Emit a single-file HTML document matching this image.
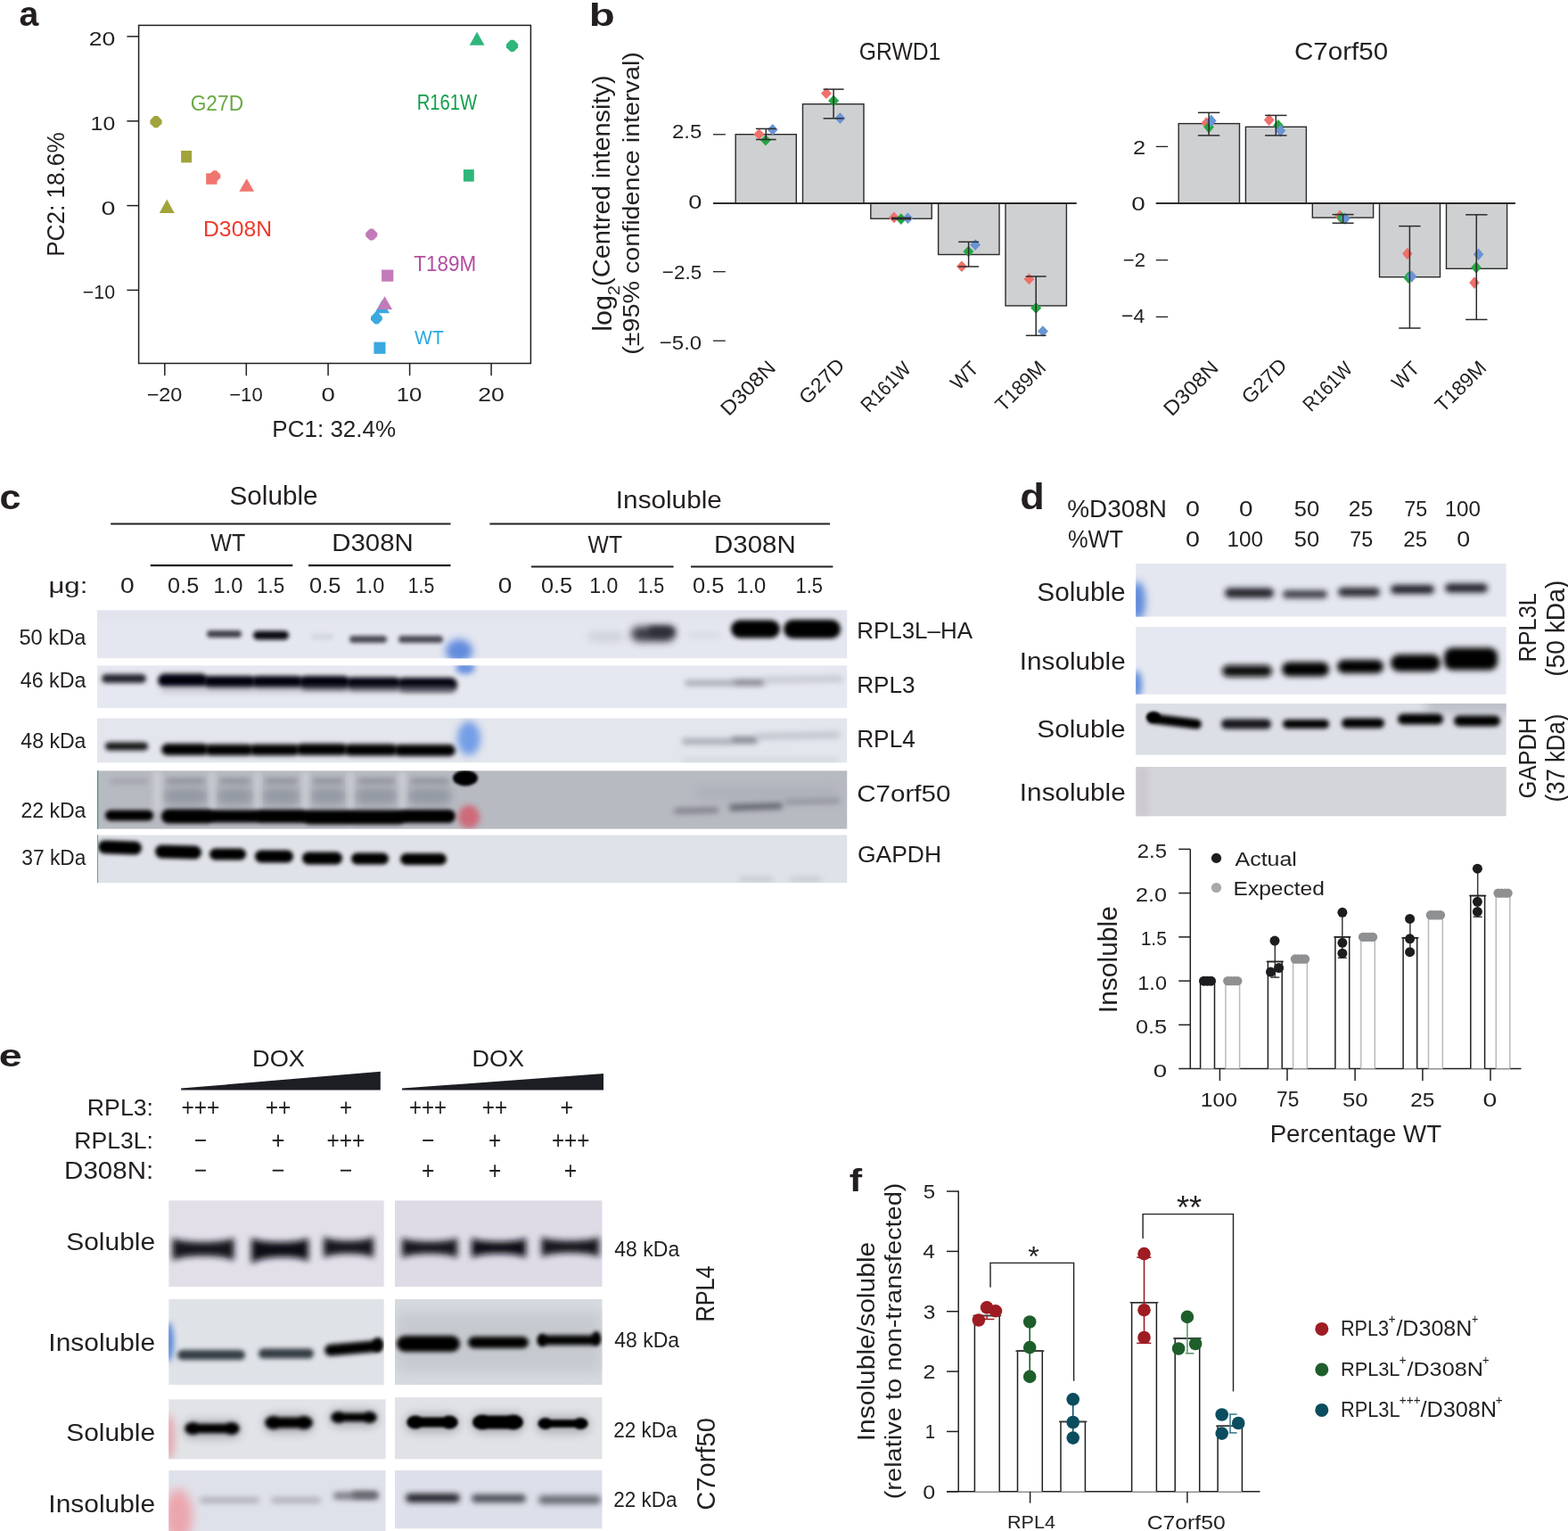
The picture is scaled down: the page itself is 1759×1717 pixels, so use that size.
<!DOCTYPE html><html><head><meta charset="utf-8"><title>Figure</title><style>html,body{margin:0;padding:0;background:#ffffff;width:1759px;height:1717px;overflow:hidden}</style></head><body><svg width="1759" height="1717" viewBox="0 0 1759 1717" style="display:block;font-family:'Liberation Sans',Arial,sans-serif"><defs><filter id="f80" x="-50%" y="-300%" width="200%" height="700%"><feGaussianBlur stdDeviation="0.8"/></filter><filter id="f100" x="-50%" y="-300%" width="200%" height="700%"><feGaussianBlur stdDeviation="1.0"/></filter><filter id="f150" x="-50%" y="-300%" width="200%" height="700%"><feGaussianBlur stdDeviation="1.5"/></filter><filter id="f180" x="-50%" y="-300%" width="200%" height="700%"><feGaussianBlur stdDeviation="1.8"/></filter><filter id="f200" x="-50%" y="-300%" width="200%" height="700%"><feGaussianBlur stdDeviation="2.0"/></filter><filter id="f220" x="-50%" y="-300%" width="200%" height="700%"><feGaussianBlur stdDeviation="2.2"/></filter><filter id="f240" x="-50%" y="-300%" width="200%" height="700%"><feGaussianBlur stdDeviation="2.4"/></filter><filter id="f250" x="-50%" y="-300%" width="200%" height="700%"><feGaussianBlur stdDeviation="2.5"/></filter><filter id="f260" x="-50%" y="-300%" width="200%" height="700%"><feGaussianBlur stdDeviation="2.6"/></filter><filter id="f280" x="-50%" y="-300%" width="200%" height="700%"><feGaussianBlur stdDeviation="2.8"/></filter><filter id="f300" x="-50%" y="-300%" width="200%" height="700%"><feGaussianBlur stdDeviation="3.0"/></filter><filter id="f320" x="-50%" y="-300%" width="200%" height="700%"><feGaussianBlur stdDeviation="3.2"/></filter><filter id="f350" x="-50%" y="-300%" width="200%" height="700%"><feGaussianBlur stdDeviation="3.5"/></filter><filter id="f400" x="-50%" y="-300%" width="200%" height="700%"><feGaussianBlur stdDeviation="4.0"/></filter><filter id="f450" x="-50%" y="-300%" width="200%" height="700%"><feGaussianBlur stdDeviation="4.5"/></filter><filter id="f500" x="-50%" y="-300%" width="200%" height="700%"><feGaussianBlur stdDeviation="5.0"/></filter><filter id="f600" x="-50%" y="-300%" width="200%" height="700%"><feGaussianBlur stdDeviation="6.0"/></filter><filter id="f800" x="-50%" y="-300%" width="200%" height="700%"><feGaussianBlur stdDeviation="8.0"/></filter><clipPath id="c1"><rect x="109.0" y="684.2" width="841.5" height="54.2"/></clipPath><clipPath id="c2"><rect x="109.0" y="746.2" width="841.5" height="48.0"/></clipPath><clipPath id="c3"><rect x="109.0" y="805.3" width="841.5" height="50.3"/></clipPath><clipPath id="c4"><rect x="109.0" y="864.2" width="841.5" height="65.6"/></clipPath><clipPath id="c5"><rect x="109.0" y="936.3" width="841.5" height="54.0"/></clipPath><clipPath id="c6"><rect x="1274.1" y="632.0" width="415.7" height="59.7"/></clipPath><clipPath id="c7"><rect x="1274.1" y="703.1" width="415.7" height="75.7"/></clipPath><clipPath id="c8"><rect x="1274.1" y="789.0" width="415.7" height="57.8"/></clipPath><clipPath id="c9"><rect x="1274.1" y="860.0" width="415.7" height="55.6"/></clipPath><clipPath id="c10"><rect x="189.2" y="1346.2" width="241.6" height="96.8"/></clipPath><clipPath id="c11"><rect x="443.0" y="1346.2" width="232.7" height="96.8"/></clipPath><clipPath id="c12"><rect x="189.2" y="1457.1" width="241.6" height="96.1"/></clipPath><clipPath id="c13"><rect x="443.0" y="1457.1" width="232.7" height="96.1"/></clipPath><clipPath id="c14"><rect x="189.2" y="1569.2" width="243.6" height="67.4"/></clipPath><clipPath id="c15"><rect x="443.0" y="1567.1" width="232.7" height="69.5"/></clipPath><clipPath id="c16"><rect x="189.2" y="1649.1" width="243.6" height="67.9"/></clipPath><clipPath id="c17"><rect x="443.0" y="1649.1" width="232.7" height="65.4"/></clipPath></defs><rect width="1759" height="1717" fill="#ffffff"/><text transform="translate(21.56,29.00) scale(1.0321,1)" font-size="38.10" font-weight="bold" fill="#231f20" >a</text>
<rect x="155.60" y="28.40" width="439.80" height="379.10" fill="none" stroke="#231f20" stroke-width="1.5" />
<line x1="142.40" y1="40.90" x2="155.60" y2="40.90" stroke="#231f20" stroke-width="1.5" />
<line x1="142.40" y1="135.80" x2="155.60" y2="135.80" stroke="#231f20" stroke-width="1.5" />
<line x1="142.40" y1="230.60" x2="155.60" y2="230.60" stroke="#231f20" stroke-width="1.5" />
<line x1="142.40" y1="325.40" x2="155.60" y2="325.40" stroke="#231f20" stroke-width="1.5" />
<text transform="translate(99.67,51.00) scale(1.1821,1)" font-size="22.49" font-weight="normal" fill="#231f20" >20</text>
<text transform="translate(101.62,145.80) scale(1.1085,1)" font-size="22.35" font-weight="normal" fill="#231f20" >10</text>
<text transform="translate(113.38,240.50) scale(1.2824,1)" font-size="22.35" font-weight="normal" fill="#231f20" >0</text>
<text transform="translate(92.75,335.30) scale(0.9696,1)" font-size="22.06" font-weight="normal" fill="#231f20" >−10</text>
<line x1="184.80" y1="407.50" x2="184.80" y2="421.30" stroke="#231f20" stroke-width="1.5" />
<line x1="276.30" y1="407.50" x2="276.30" y2="421.30" stroke="#231f20" stroke-width="1.5" />
<line x1="368.10" y1="407.50" x2="368.10" y2="421.30" stroke="#231f20" stroke-width="1.5" />
<line x1="459.60" y1="407.50" x2="459.60" y2="421.30" stroke="#231f20" stroke-width="1.5" />
<line x1="551.10" y1="407.50" x2="551.10" y2="421.30" stroke="#231f20" stroke-width="1.5" />
<text transform="translate(164.65,450.10) scale(1.0490,1)" font-size="22.35" font-weight="normal" fill="#231f20" >−20</text>
<text transform="translate(257.22,450.10) scale(0.9878,1)" font-size="22.35" font-weight="normal" fill="#231f20" >−10</text>
<text transform="translate(360.52,450.10) scale(1.2356,1)" font-size="22.35" font-weight="normal" fill="#231f20" >0</text>
<text transform="translate(444.75,450.10) scale(1.1489,1)" font-size="22.35" font-weight="normal" fill="#231f20" >10</text>
<text transform="translate(536.27,450.10) scale(1.1897,1)" font-size="22.35" font-weight="normal" fill="#231f20" >20</text>
<text transform="translate(305.37,489.50) scale(0.9917,1)" font-size="26.22" font-weight="normal" fill="#231f20" >PC1: 32.4%</text>
<text transform="translate(72.40,287.84) rotate(-90) scale(0.9267,1)" font-size="28.22" font-weight="normal" fill="#231f20">PC2: 18.6%</text>
<polygon points="173.15,130.10 176.85,130.10 181.60,134.85 181.60,138.55 176.85,143.30 173.15,143.30 168.40,138.55 168.40,134.85" fill="#a1a43b" />
<rect x="203.10" y="169.00" width="12.00" height="13.40" fill="#a1a43b" stroke="none" stroke-width="0" />
<polygon points="187.25,223.60 195.70,238.90 178.80,238.90" fill="#a1a43b" />
<polygon points="239.24,191.30 242.76,191.30 247.30,195.84 247.30,199.36 242.76,203.90 239.24,203.90 234.70,199.36 234.70,195.84" fill="#f1756f" />
<rect x="231.20" y="194.30" width="12.30" height="12.50" fill="#f1756f" stroke="none" stroke-width="0" />
<polygon points="276.75,200.30 285.10,214.70 268.40,214.70" fill="#f1756f" />
<polygon points="535.10,35.70 543.50,50.80 526.70,50.80" fill="#2fb67b" />
<polygon points="572.75,44.80 576.45,44.80 581.20,49.55 581.20,53.25 576.45,58.00 572.75,58.00 568.00,53.25 568.00,49.55" fill="#2fb67b" />
<rect x="519.90" y="190.10" width="11.90" height="13.50" fill="#2fb67b" stroke="none" stroke-width="0" />
<polygon points="414.88,256.60 418.52,256.60 423.20,261.28 423.20,264.92 418.52,269.60 414.88,269.60 410.20,264.92 410.20,261.28" fill="#c27bb8" />
<rect x="428.10" y="302.50" width="13.20" height="13.20" fill="#c27bb8" stroke="none" stroke-width="0" />
<polygon points="428.65,336.50 437.00,351.20 420.30,351.20" fill="#3aa9e0" />
<polygon points="431.60,332.20 440.10,347.00 423.10,347.00" fill="#c27bb8" />
<polygon points="420.61,350.60 424.19,350.60 428.80,355.21 428.80,358.79 424.19,363.40 420.61,363.40 416.00,358.79 416.00,355.21" fill="#3aa9e0" />
<rect x="419.40" y="383.60" width="13.10" height="13.20" fill="#3aa9e0" stroke="none" stroke-width="0" />
<text transform="translate(213.66,124.20) scale(0.9510,1)" font-size="23.93" font-weight="normal" fill="#6aa843" >G27D</text>
<text transform="translate(467.64,123.00) scale(0.8633,1)" font-size="23.50" font-weight="normal" fill="#12a04b" >R161W</text>
<text transform="translate(227.97,265.40) scale(1.0611,1)" font-size="23.35" font-weight="normal" fill="#ec3a2c" >D308N</text>
<text transform="translate(464.31,304.20) scale(0.9565,1)" font-size="23.50" font-weight="normal" fill="#b24ea1" >T189M</text>
<text transform="translate(465.09,385.80) scale(0.9271,1)" font-size="22.67" font-weight="normal" fill="#27aae1" >WT</text>
<text transform="translate(660.86,29.00) scale(1.3592,1)" font-size="35.03" font-weight="bold" fill="#231f20" >b</text>
<text transform="translate(963.76,67.10) scale(0.8767,1)" font-size="28.22" font-weight="normal" fill="#231f20" >GRWD1</text>
<text transform="translate(1451.89,67.10) scale(1.0876,1)" font-size="27.21" font-weight="normal" fill="#231f20" >C7orf50</text>
<line x1="800.00" y1="228.10" x2="1207.60" y2="228.10" stroke="#231f20" stroke-width="1.5" />
<line x1="800.00" y1="150.80" x2="813.80" y2="150.80" stroke="#231f20" stroke-width="1.3" />
<line x1="800.00" y1="304.70" x2="813.80" y2="304.70" stroke="#231f20" stroke-width="1.3" />
<line x1="800.00" y1="382.20" x2="813.80" y2="382.20" stroke="#231f20" stroke-width="1.3" />
<text transform="translate(754.00,155.10) scale(1.0687,1)" font-size="22.49" font-weight="normal" fill="#231f20" >2.5</text>
<text transform="translate(772.34,233.60) scale(1.2015,1)" font-size="22.64" font-weight="normal" fill="#231f20" >0</text>
<text transform="translate(742.80,313.00) scale(0.9924,1)" font-size="22.64" font-weight="normal" fill="#231f20" >−2.5</text>
<text transform="translate(739.83,391.60) scale(1.0588,1)" font-size="22.64" font-weight="normal" fill="#231f20" >−5.0</text>
<rect x="825.20" y="150.70" width="68.10" height="77.40" fill="#cfd0d2" stroke="#2b2b2b" stroke-width="1.4" />
<rect x="900.50" y="116.70" width="68.50" height="111.40" fill="#cfd0d2" stroke="#2b2b2b" stroke-width="1.4" />
<rect x="976.80" y="228.10" width="68.40" height="17.10" fill="#cfd0d2" stroke="#2b2b2b" stroke-width="1.4" />
<rect x="1052.60" y="228.10" width="68.40" height="57.40" fill="#cfd0d2" stroke="#2b2b2b" stroke-width="1.4" />
<rect x="1128.00" y="228.10" width="68.40" height="114.80" fill="#cfd0d2" stroke="#2b2b2b" stroke-width="1.4" />
<line x1="800.00" y1="228.10" x2="1207.60" y2="228.10" stroke="#231f20" stroke-width="1.5" />
<polygon points="851.50,144.20 857.50,150.50 851.50,156.80 845.50,150.50" fill="#f0706b" />
<polygon points="866.70,139.10 872.70,145.40 866.70,151.70 860.70,145.40" fill="#6a94d4" />
<polygon points="858.90,150.90 864.90,157.20 858.90,163.50 852.90,157.20" fill="#24a744" />
<line x1="859.30" y1="144.40" x2="859.30" y2="156.50" stroke="#2b2b2b" stroke-width="1.5" />
<line x1="847.90" y1="144.40" x2="870.70" y2="144.40" stroke="#2b2b2b" stroke-width="1.5" />
<line x1="847.90" y1="156.50" x2="870.70" y2="156.50" stroke="#2b2b2b" stroke-width="1.5" />
<polygon points="927.00,98.40 933.00,104.70 927.00,111.00 921.00,104.70" fill="#f0706b" />
<polygon points="935.10,106.60 941.10,112.90 935.10,119.20 929.10,112.90" fill="#24a744" />
<polygon points="942.40,126.30 948.40,132.60 942.40,138.90 936.40,132.60" fill="#6a94d4" />
<line x1="935.10" y1="100.10" x2="935.10" y2="132.80" stroke="#2b2b2b" stroke-width="1.5" />
<line x1="923.60" y1="100.10" x2="946.60" y2="100.10" stroke="#2b2b2b" stroke-width="1.5" />
<line x1="923.60" y1="132.80" x2="946.60" y2="132.80" stroke="#2b2b2b" stroke-width="1.5" />
<polygon points="1002.90,237.60 1008.90,243.90 1002.90,250.20 996.90,243.90" fill="#f0706b" />
<polygon points="1010.80,239.30 1016.80,245.60 1010.80,251.90 1004.80,245.60" fill="#24a744" />
<polygon points="1018.40,238.40 1024.40,244.70 1018.40,251.00 1012.40,244.70" fill="#6a94d4" />
<line x1="1011.00" y1="244.30" x2="1011.00" y2="245.60" stroke="#2b2b2b" stroke-width="1.5" />
<line x1="1000.00" y1="244.30" x2="1022.00" y2="244.30" stroke="#2b2b2b" stroke-width="1.5" />
<line x1="1000.00" y1="245.60" x2="1022.00" y2="245.60" stroke="#2b2b2b" stroke-width="1.5" />
<polygon points="1094.10,268.30 1100.10,274.60 1094.10,280.90 1088.10,274.60" fill="#6a94d4" />
<polygon points="1086.40,275.70 1092.40,282.00 1086.40,288.30 1080.40,282.00" fill="#24a744" />
<polygon points="1078.90,292.50 1084.90,298.80 1078.90,305.10 1072.90,298.80" fill="#f0706b" />
<line x1="1086.60" y1="271.30" x2="1086.60" y2="299.00" stroke="#2b2b2b" stroke-width="1.5" />
<line x1="1075.20" y1="271.30" x2="1098.00" y2="271.30" stroke="#2b2b2b" stroke-width="1.5" />
<line x1="1075.20" y1="299.00" x2="1098.00" y2="299.00" stroke="#2b2b2b" stroke-width="1.5" />
<polygon points="1154.50,306.60 1160.50,312.90 1154.50,319.20 1148.50,312.90" fill="#f0706b" />
<polygon points="1162.20,339.10 1168.20,345.40 1162.20,351.70 1156.20,345.40" fill="#24a744" />
<polygon points="1169.90,365.20 1175.90,371.50 1169.90,377.80 1163.90,371.50" fill="#6a94d4" />
<line x1="1162.20" y1="310.00" x2="1162.20" y2="376.30" stroke="#2b2b2b" stroke-width="1.5" />
<line x1="1150.80" y1="310.00" x2="1173.60" y2="310.00" stroke="#2b2b2b" stroke-width="1.5" />
<line x1="1150.80" y1="376.30" x2="1173.60" y2="376.30" stroke="#2b2b2b" stroke-width="1.5" />
<line x1="1296.80" y1="228.00" x2="1700.00" y2="228.00" stroke="#231f20" stroke-width="1.5" />
<line x1="1296.80" y1="164.40" x2="1310.20" y2="164.40" stroke="#231f20" stroke-width="1.3" />
<line x1="1296.80" y1="291.70" x2="1310.20" y2="291.70" stroke="#231f20" stroke-width="1.3" />
<line x1="1296.80" y1="355.40" x2="1310.20" y2="355.40" stroke="#231f20" stroke-width="1.3" />
<text transform="translate(1271.03,172.70) scale(1.1456,1)" font-size="22.21" font-weight="normal" fill="#231f20" >2</text>
<text transform="translate(1269.21,236.30) scale(1.2450,1)" font-size="22.35" font-weight="normal" fill="#231f20" >0</text>
<text transform="translate(1259.82,299.00) scale(0.9886,1)" font-size="22.35" font-weight="normal" fill="#231f20" >−2</text>
<text transform="translate(1258.07,362.20) scale(1.0133,1)" font-size="22.67" font-weight="normal" fill="#231f20" >−4</text>
<rect x="1322.20" y="138.60" width="68.30" height="89.40" fill="#cfd0d2" stroke="#2b2b2b" stroke-width="1.4" />
<rect x="1397.40" y="142.30" width="68.00" height="85.70" fill="#cfd0d2" stroke="#2b2b2b" stroke-width="1.4" />
<rect x="1472.30" y="228.00" width="68.30" height="16.10" fill="#cfd0d2" stroke="#2b2b2b" stroke-width="1.4" />
<rect x="1547.50" y="228.00" width="68.00" height="82.70" fill="#cfd0d2" stroke="#2b2b2b" stroke-width="1.4" />
<rect x="1622.50" y="228.00" width="68.10" height="73.30" fill="#cfd0d2" stroke="#2b2b2b" stroke-width="1.4" />
<line x1="1296.80" y1="228.00" x2="1700.00" y2="228.00" stroke="#231f20" stroke-width="1.5" />
<polygon points="1353.30,131.30 1359.10,138.10 1353.30,144.90 1347.50,138.10" fill="#f0706b" />
<polygon points="1356.10,135.80 1361.90,142.60 1356.10,149.40 1350.30,142.60" fill="#24a744" />
<polygon points="1358.80,128.60 1364.60,135.40 1358.80,142.20 1353.00,135.40" fill="#6a94d4" />
<line x1="1356.10" y1="126.30" x2="1356.10" y2="151.90" stroke="#2b2b2b" stroke-width="1.5" />
<line x1="1343.90" y1="126.30" x2="1368.30" y2="126.30" stroke="#2b2b2b" stroke-width="1.5" />
<line x1="1343.90" y1="151.90" x2="1368.30" y2="151.90" stroke="#2b2b2b" stroke-width="1.5" />
<polygon points="1423.70,127.70 1429.50,134.50 1423.70,141.30 1417.90,134.50" fill="#f0706b" />
<polygon points="1434.00,134.00 1439.80,140.80 1434.00,147.60 1428.20,140.80" fill="#24a744" />
<polygon points="1436.40,139.80 1442.20,146.60 1436.40,153.40 1430.60,146.60" fill="#6a94d4" />
<line x1="1431.30" y1="129.40" x2="1431.30" y2="151.90" stroke="#2b2b2b" stroke-width="1.5" />
<line x1="1419.10" y1="129.40" x2="1443.50" y2="129.40" stroke="#2b2b2b" stroke-width="1.5" />
<line x1="1419.10" y1="151.90" x2="1443.50" y2="151.90" stroke="#2b2b2b" stroke-width="1.5" />
<polygon points="1503.00,235.60 1508.80,242.40 1503.00,249.20 1497.20,242.40" fill="#f0706b" />
<polygon points="1505.10,237.40 1510.90,244.20 1505.10,251.00 1499.30,244.20" fill="#24a744" />
<polygon points="1509.00,238.30 1514.80,245.10 1509.00,251.90 1503.20,245.10" fill="#6a94d4" />
<line x1="1506.60" y1="240.60" x2="1506.60" y2="250.20" stroke="#2b2b2b" stroke-width="1.5" />
<line x1="1494.60" y1="240.60" x2="1518.60" y2="240.60" stroke="#2b2b2b" stroke-width="1.5" />
<line x1="1494.60" y1="250.20" x2="1518.60" y2="250.20" stroke="#2b2b2b" stroke-width="1.5" />
<polygon points="1578.80,277.70 1584.60,284.50 1578.80,291.30 1573.00,284.50" fill="#f0706b" />
<polygon points="1580.00,304.40 1585.80,311.20 1580.00,318.00 1574.20,311.20" fill="#24a744" />
<polygon points="1583.50,303.30 1589.30,310.10 1583.50,316.90 1577.70,310.10" fill="#6a94d4" />
<line x1="1581.40" y1="253.60" x2="1581.40" y2="368.00" stroke="#2b2b2b" stroke-width="1.5" />
<line x1="1569.20" y1="253.60" x2="1593.60" y2="253.60" stroke="#2b2b2b" stroke-width="1.5" />
<line x1="1569.20" y1="368.00" x2="1593.60" y2="368.00" stroke="#2b2b2b" stroke-width="1.5" />
<polygon points="1654.00,310.30 1659.80,317.10 1654.00,323.90 1648.20,317.10" fill="#f0706b" />
<polygon points="1656.00,293.20 1661.80,300.00 1656.00,306.80 1650.20,300.00" fill="#24a744" />
<polygon points="1658.60,278.50 1664.40,285.30 1658.60,292.10 1652.80,285.30" fill="#6a94d4" />
<line x1="1656.30" y1="240.80" x2="1656.30" y2="358.40" stroke="#2b2b2b" stroke-width="1.5" />
<line x1="1644.10" y1="240.80" x2="1668.50" y2="240.80" stroke="#2b2b2b" stroke-width="1.5" />
<line x1="1644.10" y1="358.40" x2="1668.50" y2="358.40" stroke="#2b2b2b" stroke-width="1.5" />
<text transform="translate(686.10,371.84) rotate(-90) scale(1.0532,1)" font-size="28.97" font-weight="normal" fill="#231f20">log</text>
<text transform="translate(694.80,331.30) rotate(-90) scale(1.0553,1)" font-size="18.91" font-weight="normal" fill="#231f20">2</text>
<text transform="translate(684.38,320.90) rotate(-90) scale(1.0722,1)" font-size="27.01" font-weight="normal" fill="#231f20">(Centred intensity)</text>
<text transform="translate(717.29,397.78) rotate(-90) scale(1.0791,1)" font-size="26.61" font-weight="normal" fill="#231f20">(±95% confidence interval)</text>
<text transform="translate(817.61,467.53) rotate(-45) scale(1.0783,1)" font-size="22.67" font-weight="normal" fill="#231f20">D308N</text>
<text transform="translate(905.61,454.69) rotate(-45) scale(1.0347,1)" font-size="22.67" font-weight="normal" fill="#231f20">G27D</text>
<text transform="translate(974.74,463.44) rotate(-45) scale(0.9047,1)" font-size="22.67" font-weight="normal" fill="#231f20">R161W</text>
<text transform="translate(1075.45,438.49) rotate(-45) scale(0.9518,1)" font-size="22.67" font-weight="normal" fill="#231f20">WT</text>
<text transform="translate(1125.68,462.86) rotate(-45) scale(0.9829,1)" font-size="22.67" font-weight="normal" fill="#231f20">T189M</text>
<text transform="translate(1314.41,467.64) rotate(-45) scale(1.0804,1)" font-size="22.67" font-weight="normal" fill="#231f20">D308N</text>
<text transform="translate(1402.03,454.37) rotate(-45) scale(1.0267,1)" font-size="22.67" font-weight="normal" fill="#231f20">G27D</text>
<text transform="translate(1470.86,462.78) rotate(-45) scale(0.8925,1)" font-size="22.67" font-weight="normal" fill="#231f20">R161W</text>
<text transform="translate(1570.46,437.90) rotate(-45) scale(0.9276,1)" font-size="22.67" font-weight="normal" fill="#231f20">WT</text>
<text transform="translate(1619.08,463.57) rotate(-45) scale(0.9974,1)" font-size="22.67" font-weight="normal" fill="#231f20">T189M</text>
<text transform="translate(-0.38,570.60) scale(1.0869,1)" font-size="39.59" font-weight="bold" fill="#231f20" >c</text>
<text transform="translate(257.43,566.30) scale(1.0225,1)" font-size="29.10" font-weight="normal" fill="#231f20" >Soluble</text>
<text transform="translate(690.86,570.10) scale(1.0416,1)" font-size="28.55" font-weight="normal" fill="#231f20" >Insoluble</text>
<line x1="124.20" y1="587.50" x2="505.50" y2="587.50" stroke="#231f20" stroke-width="2.2" />
<line x1="549.40" y1="587.50" x2="931.00" y2="587.50" stroke="#231f20" stroke-width="2.2" />
<text transform="translate(236.27,617.90) scale(0.9059,1)" font-size="27.62" font-weight="normal" fill="#231f20" >WT</text>
<text transform="translate(372.19,617.90) scale(1.0809,1)" font-size="27.22" font-weight="normal" fill="#231f20" >D308N</text>
<text transform="translate(659.58,620.40) scale(0.8734,1)" font-size="28.34" font-weight="normal" fill="#231f20" >WT</text>
<text transform="translate(800.98,620.40) scale(1.0556,1)" font-size="27.94" font-weight="normal" fill="#231f20" >D308N</text>
<line x1="168.70" y1="634.20" x2="328.30" y2="634.20" stroke="#231f20" stroke-width="2.2" />
<line x1="346.00" y1="634.20" x2="505.50" y2="634.20" stroke="#231f20" stroke-width="2.2" />
<line x1="596.10" y1="635.50" x2="755.60" y2="635.50" stroke="#231f20" stroke-width="2.2" />
<line x1="775.00" y1="635.50" x2="934.40" y2="635.50" stroke="#231f20" stroke-width="2.2" />

<text transform="translate(54.41,664.83) scale(1.2544,1)" font-size="24.83" font-weight="normal" fill="#231f20">μg:</text>
<text transform="translate(135.00,665.00) scale(1.2169,1)" font-size="23.21" font-weight="normal" fill="#231f20" >0</text>
<text transform="translate(188.12,665.00) scale(1.0862,1)" font-size="23.21" font-weight="normal" fill="#231f20" >0.5</text>
<text transform="translate(239.40,665.00) scale(1.0206,1)" font-size="23.21" font-weight="normal" fill="#231f20" >1.0</text>
<text transform="translate(288.09,665.00) scale(0.9549,1)" font-size="23.55" font-weight="normal" fill="#231f20" >1.5</text>
<text transform="translate(346.90,665.00) scale(1.0994,1)" font-size="23.21" font-weight="normal" fill="#231f20" >0.5</text>
<text transform="translate(398.61,665.00) scale(1.0138,1)" font-size="23.21" font-weight="normal" fill="#231f20" >1.0</text>
<text transform="translate(457.68,665.00) scale(0.9048,1)" font-size="23.55" font-weight="normal" fill="#231f20" >1.5</text>
<text transform="translate(558.81,665.00) scale(1.2079,1)" font-size="23.21" font-weight="normal" fill="#231f20" >0</text>
<text transform="translate(607.01,665.00) scale(1.0895,1)" font-size="23.21" font-weight="normal" fill="#231f20" >0.5</text>
<text transform="translate(661.14,665.00) scale(0.9969,1)" font-size="23.21" font-weight="normal" fill="#231f20" >1.0</text>
<text transform="translate(715.26,665.00) scale(0.9148,1)" font-size="23.55" font-weight="normal" fill="#231f20" >1.5</text>
<text transform="translate(776.90,665.00) scale(1.0994,1)" font-size="23.21" font-weight="normal" fill="#231f20" >0.5</text>
<text transform="translate(826.19,665.00) scale(1.0239,1)" font-size="23.21" font-weight="normal" fill="#231f20" >1.0</text>
<text transform="translate(892.43,665.00) scale(0.9315,1)" font-size="23.55" font-weight="normal" fill="#231f20" >1.5</text>
<text transform="translate(21.45,722.50) scale(0.9972,1)" font-size="23.72" font-weight="normal" fill="#231f20" >50 kDa</text>
<text transform="translate(22.77,771.30) scale(0.9629,1)" font-size="24.14" font-weight="normal" fill="#231f20" >46 kDa</text>
<text transform="translate(23.37,838.80) scale(0.9550,1)" font-size="24.14" font-weight="normal" fill="#231f20" >48 kDa</text>
<text transform="translate(23.45,916.70) scale(0.9879,1)" font-size="23.31" font-weight="normal" fill="#231f20" >22 kDa</text>
<text transform="translate(24.34,970.40) scale(0.9318,1)" font-size="24.41" font-weight="normal" fill="#231f20" >37 kDa</text>
<text transform="translate(961.17,715.80) scale(1.0067,1)" font-size="25.79" font-weight="normal" fill="#231f20" >RPL3L–HA</text>
<text transform="translate(961.16,776.90) scale(0.9919,1)" font-size="26.36" font-weight="normal" fill="#231f20" >RPL3</text>
<text transform="translate(961.15,838.10) scale(0.9772,1)" font-size="26.89" font-weight="normal" fill="#231f20" >RPL4</text>
<text transform="translate(961.19,898.50) scale(1.1519,1)" font-size="25.69" font-weight="normal" fill="#231f20" >C7orf50</text>
<text transform="translate(961.98,966.50) scale(0.9991,1)" font-size="26.50" font-weight="normal" fill="#231f20" >GAPDH</text>
<g clip-path="url(#c1)"><rect x="109.0" y="684.2" width="841.5" height="54.2" fill="#e4e6f0"/><rect x="109" y="684" width="842" height="8" fill="#dcdfe8" filter="url(#f400)" opacity="0.6"/><rect x="232.0" y="707.0" width="39.0" height="8.0" rx="4.0" fill="#42424c" opacity="1.0" filter="url(#f220)"/><rect x="284.0" y="707.5" width="40.0" height="10.0" rx="5.0" fill="#111118" opacity="1.0" filter="url(#f220)"/><rect x="349.0" y="711.5" width="25.0" height="5.0" rx="2.5" fill="#cfd1d9" opacity="1.0" filter="url(#f250)"/><rect x="392.0" y="713.0" width="42.0" height="8.0" rx="4.0" fill="#4c4c56" opacity="1.0" filter="url(#f220)"/><rect x="447.0" y="713.0" width="50.0" height="8.0" rx="4.0" fill="#4c4c56" opacity="1.0" filter="url(#f220)"/><ellipse cx="515.0" cy="730.0" rx="15.0" ry="13.0" fill="#5a86dc" opacity="0.95" filter="url(#f400)"/><rect x="660.0" y="709.0" width="40.0" height="10.0" rx="5.0" fill="#cdcfd8" opacity="1.0" filter="url(#f500)"/><rect x="708.0" y="702.5" width="49.0" height="17.0" rx="8.5" fill="#3c3c48" opacity="1.0" filter="url(#f450)"/><rect x="727.0" y="703.0" width="30.0" height="10.0" rx="5.0" fill="#2a2a34" opacity="1.0" filter="url(#f350)"/><rect x="772.0" y="709.0" width="36.0" height="6.0" rx="3.0" fill="#d8dae2" opacity="1.0" filter="url(#f350)"/><rect x="820.0" y="695.5" width="55.0" height="20.0" rx="10.0" fill="#000" opacity="1.0" filter="url(#f280)"/><rect x="879.0" y="695.0" width="64.0" height="21.0" rx="10.5" fill="#000" opacity="1.0" filter="url(#f280)"/></g>
<g clip-path="url(#c2)"><rect x="109.0" y="746.2" width="841.5" height="48.0" fill="#e6e8f1"/><rect x="114.0" y="756.0" width="50.0" height="10.0" rx="5.0" fill="#282830" opacity="1.0" filter="url(#f250)"/><rect x="177.0" y="755.5" width="56.0" height="15.0" rx="7.5" fill="#040407" opacity="1.0" filter="url(#f250)"/><rect x="228.0" y="758.0" width="59.0" height="14.0" rx="7.0" fill="#040407" opacity="1.0" filter="url(#f250)"/><rect x="282.0" y="758.0" width="58.0" height="14.0" rx="7.0" fill="#040407" opacity="1.0" filter="url(#f250)"/><rect x="335.0" y="758.0" width="58.0" height="16.0" rx="8.0" fill="#040407" opacity="1.0" filter="url(#f250)"/><rect x="388.0" y="759.5" width="62.0" height="15.0" rx="7.5" fill="#040407" opacity="1.0" filter="url(#f250)"/><rect x="445.0" y="760.0" width="68.0" height="16.0" rx="8.0" fill="#040407" opacity="1.0" filter="url(#f250)"/><rect x="180.0" y="771.0" width="332.0" height="6.0" rx="3.0" fill="#b4b6c0" opacity="0.7" filter="url(#f350)"/><ellipse cx="522.0" cy="749.0" rx="11.0" ry="7.0" fill="#5a86dc" opacity="0.9" filter="url(#f300)"/><rect x="768.0" y="763.0" width="56.0" height="6.0" rx="3.0" fill="#a2a4ae" opacity="1.0" filter="url(#f300)"/><rect x="822.0" y="762.0" width="36.0" height="7.0" rx="3.5" fill="#80828d" opacity="1.0" filter="url(#f300)"/><rect x="856.0" y="759.5" width="90.0" height="5.0" rx="2.5" fill="#b8bac4" opacity="1.0" filter="url(#f350)" transform="rotate(-1.20 901.0 762.0)"/></g>
<g clip-path="url(#c3)"><rect x="109.0" y="805.3" width="841.5" height="50.3" fill="#e3e6ed"/><rect x="118.0" y="832.5" width="48.0" height="9.0" rx="4.5" fill="#121216" opacity="1.0" filter="url(#f240)"/><rect x="181.0" y="834.0" width="53.0" height="13.0" rx="6.5" fill="#020204" opacity="1.0" filter="url(#f240)"/><rect x="230.0" y="834.8" width="54.0" height="12.5" rx="6.2" fill="#020204" opacity="1.0" filter="url(#f240)"/><rect x="280.0" y="834.8" width="56.0" height="12.5" rx="6.2" fill="#020204" opacity="1.0" filter="url(#f240)"/><rect x="332.0" y="834.0" width="58.0" height="13.0" rx="6.5" fill="#020204" opacity="1.0" filter="url(#f240)"/><rect x="386.0" y="834.5" width="60.0" height="13.0" rx="6.5" fill="#020204" opacity="1.0" filter="url(#f240)"/><rect x="442.0" y="835.0" width="69.0" height="13.0" rx="6.5" fill="#020204" opacity="1.0" filter="url(#f240)"/><ellipse cx="526.0" cy="828.0" rx="13.0" ry="19.0" fill="#6e9ae6" opacity="0.95" filter="url(#f450)"/><rect x="765.0" y="828.5" width="57.0" height="6.0" rx="3.0" fill="#a0a2ac" opacity="1.0" filter="url(#f300)"/><rect x="820.0" y="826.5" width="30.0" height="7.0" rx="3.5" fill="#7c7e88" opacity="1.0" filter="url(#f300)"/><rect x="848.0" y="822.5" width="94.0" height="5.0" rx="2.5" fill="#b2b4be" opacity="1.0" filter="url(#f350)" transform="rotate(-1.50 895.0 825.0)"/><rect x="765.0" y="850.5" width="177.0" height="4.0" rx="2.0" fill="#cfd1d9" opacity="1.0" filter="url(#f300)"/></g>
<g clip-path="url(#c4)"><rect x="109.0" y="864.2" width="841.5" height="65.6" fill="#b8bac2"/><rect x="123.5" y="873.0" width="43.0" height="6.0" rx="3.0" fill="#a0a2ab" opacity="1.0" filter="url(#f300)"/><rect x="186.0" y="873.0" width="44.0" height="6.0" rx="3.0" fill="#8a8c97" opacity="1.0" filter="url(#f300)"/><rect x="183.0" y="883.0" width="50.0" height="20.0" rx="10.0" fill="#9398a3" opacity="0.95" filter="url(#f500)"/><rect x="246.0" y="873.0" width="35.0" height="6.0" rx="3.0" fill="#8a8c97" opacity="1.0" filter="url(#f300)"/><rect x="243.0" y="883.0" width="41.0" height="20.0" rx="10.0" fill="#9398a3" opacity="0.95" filter="url(#f500)"/><rect x="297.0" y="873.0" width="37.0" height="6.0" rx="3.0" fill="#8a8c97" opacity="1.0" filter="url(#f300)"/><rect x="294.0" y="883.0" width="43.0" height="20.0" rx="10.0" fill="#9398a3" opacity="0.95" filter="url(#f500)"/><rect x="351.0" y="873.0" width="34.0" height="6.0" rx="3.0" fill="#8a8c97" opacity="1.0" filter="url(#f300)"/><rect x="348.0" y="883.0" width="40.0" height="20.0" rx="10.0" fill="#9398a3" opacity="0.95" filter="url(#f500)"/><rect x="401.0" y="873.0" width="42.0" height="6.0" rx="3.0" fill="#8a8c97" opacity="1.0" filter="url(#f300)"/><rect x="398.0" y="883.0" width="48.0" height="20.0" rx="10.0" fill="#9398a3" opacity="0.95" filter="url(#f500)"/><rect x="460.0" y="873.0" width="44.0" height="6.0" rx="3.0" fill="#8a8c97" opacity="1.0" filter="url(#f300)"/><rect x="457.0" y="883.0" width="50.0" height="20.0" rx="10.0" fill="#9398a3" opacity="0.95" filter="url(#f500)"/><rect x="172.0" y="864" width="9.0" height="46" fill="#cfd1d7" filter="url(#f300)" opacity="0.85"/><rect x="235.0" y="864" width="6.0" height="46" fill="#cfd1d7" filter="url(#f300)" opacity="0.85"/><rect x="286.0" y="864" width="6.0" height="46" fill="#cfd1d7" filter="url(#f300)" opacity="0.85"/><rect x="339.0" y="864" width="7.0" height="46" fill="#cfd1d7" filter="url(#f300)" opacity="0.85"/><rect x="390.0" y="864" width="6.0" height="46" fill="#cfd1d7" filter="url(#f300)" opacity="0.85"/><rect x="448.0" y="864" width="7.0" height="46" fill="#cfd1d7" filter="url(#f300)" opacity="0.85"/><rect x="118.0" y="908.5" width="54.0" height="12.0" rx="6.0" fill="#000" opacity="1.0" filter="url(#f200)"/><rect x="181.0" y="907.5" width="60.0" height="16.0" rx="8.0" fill="#000" opacity="1.0" filter="url(#f200)"/><rect x="234.0" y="908.5" width="58.0" height="14.0" rx="7.0" fill="#000" opacity="1.0" filter="url(#f200)"/><rect x="285.0" y="908.0" width="61.0" height="15.0" rx="7.5" fill="#000" opacity="1.0" filter="url(#f200)"/><rect x="339.0" y="908.5" width="58.0" height="16.0" rx="8.0" fill="#000" opacity="1.0" filter="url(#f200)"/><rect x="389.0" y="908.5" width="66.0" height="16.0" rx="8.0" fill="#000" opacity="1.0" filter="url(#f200)"/><rect x="447.0" y="908.0" width="64.0" height="15.0" rx="7.5" fill="#000" opacity="1.0" filter="url(#f200)"/><ellipse cx="522.0" cy="872.5" rx="14.0" ry="9.0" fill="#000" opacity="1.0" filter="url(#f150)"/><ellipse cx="526.0" cy="916.0" rx="12.0" ry="13.0" fill="#d06675" opacity="0.95" filter="url(#f300)"/><rect x="756.0" y="906.0" width="50.0" height="6.0" rx="3.0" fill="#7a7c86" opacity="1.0" filter="url(#f300)" transform="rotate(-1.50 781.0 909.0)"/><rect x="818.0" y="901.0" width="60.0" height="7.0" rx="3.5" fill="#5c5e68" opacity="1.0" filter="url(#f300)" transform="rotate(-2.00 848.0 904.5)"/><rect x="880.0" y="896.0" width="62.0" height="5.0" rx="2.5" fill="#858792" opacity="1.0" filter="url(#f320)" transform="rotate(-1.00 911.0 898.5)"/><rect x="780.0" y="883.0" width="160.0" height="14.0" rx="7.0" fill="#a6a9b2" opacity="0.6" filter="url(#f600)"/><rect x="109" y="864" width="1.3" height="66" fill="#4a9a80"/></g>
<g clip-path="url(#c5)"><rect x="109.0" y="936.3" width="841.5" height="54.0" fill="#dfe2e8"/><rect x="110.0" y="943.0" width="49.0" height="15.0" rx="7.5" fill="#000" opacity="1.0" filter="url(#f200)" transform="rotate(2.00 134.5 950.5)"/><rect x="174.0" y="948.0" width="52.0" height="15.0" rx="7.5" fill="#000" opacity="1.0" filter="url(#f200)" transform="rotate(1.50 200.0 955.5)"/><rect x="235.0" y="951.5" width="41.0" height="13.0" rx="6.5" fill="#000" opacity="1.0" filter="url(#f200)"/><rect x="286.0" y="953.5" width="43.0" height="14.0" rx="7.0" fill="#000" opacity="1.0" filter="url(#f200)"/><rect x="339.0" y="955.5" width="45.0" height="14.0" rx="7.0" fill="#000" opacity="1.0" filter="url(#f200)"/><rect x="394.0" y="956.5" width="42.0" height="13.0" rx="6.5" fill="#000" opacity="1.0" filter="url(#f200)"/><rect x="449.0" y="957.0" width="52.0" height="13.0" rx="6.5" fill="#000" opacity="1.0" filter="url(#f200)"/><rect x="829.0" y="983.5" width="39.0" height="5.0" rx="2.5" fill="#c4c6ce" opacity="1.0" filter="url(#f300)"/><rect x="886.0" y="983.5" width="36.0" height="5.0" rx="2.5" fill="#c4c6ce" opacity="1.0" filter="url(#f300)"/><rect x="109" y="936" width="1.1" height="55" fill="#6aaa98"/></g>
<text transform="translate(1144.15,570.60) scale(1.1221,1)" font-size="40.14" font-weight="bold" fill="#231f20" >d</text>
<text transform="translate(1197.19,579.70) scale(1.0434,1)" font-size="26.79" font-weight="normal" fill="#231f20" >%D308N</text>
<text transform="translate(1197.88,613.70) scale(0.9296,1)" font-size="27.38" font-weight="normal" fill="#231f20" >%WT</text>
<text transform="translate(1329.88,579.10) scale(1.2273,1)" font-size="23.35" font-weight="normal" fill="#231f20" >0</text>
<text transform="translate(1389.91,579.10) scale(1.1915,1)" font-size="23.35" font-weight="normal" fill="#231f20" >0</text>
<text transform="translate(1451.68,579.10) scale(1.0944,1)" font-size="23.35" font-weight="normal" fill="#231f20" >50</text>
<text transform="translate(1512.76,579.10) scale(1.0580,1)" font-size="23.35" font-weight="normal" fill="#231f20" >25</text>
<text transform="translate(1575.21,579.10) scale(0.9817,1)" font-size="23.69" font-weight="normal" fill="#231f20" >75</text>
<text transform="translate(1620.66,579.10) scale(1.0368,1)" font-size="23.35" font-weight="normal" fill="#231f20" >100</text>
<text transform="translate(1329.88,613.10) scale(1.2349,1)" font-size="23.21" font-weight="normal" fill="#231f20" >0</text>
<text transform="translate(1376.46,613.10) scale(1.0459,1)" font-size="23.21" font-weight="normal" fill="#231f20" >100</text>
<text transform="translate(1451.68,613.10) scale(1.1011,1)" font-size="23.21" font-weight="normal" fill="#231f20" >50</text>
<text transform="translate(1514.31,613.10) scale(0.9878,1)" font-size="23.55" font-weight="normal" fill="#231f20" >75</text>
<text transform="translate(1574.29,613.10) scale(1.0391,1)" font-size="23.21" font-weight="normal" fill="#231f20" >25</text>
<text transform="translate(1634.16,613.10) scale(1.1538,1)" font-size="23.21" font-weight="normal" fill="#231f20" >0</text>
<text transform="translate(1163.33,674.10) scale(1.0236,1)" font-size="29.10" font-weight="normal" fill="#231f20" >Soluble</text>
<text transform="translate(1143.87,750.80) scale(1.0870,1)" font-size="27.31" font-weight="normal" fill="#231f20" >Insoluble</text>
<text transform="translate(1163.33,826.60) scale(1.0908,1)" font-size="27.31" font-weight="normal" fill="#231f20" >Soluble</text>
<text transform="translate(1143.87,897.60) scale(1.1038,1)" font-size="26.90" font-weight="normal" fill="#231f20" >Insoluble</text>
<text transform="translate(1723.30,742.58) rotate(-90) scale(0.8882,1)" font-size="28.51" font-weight="normal" fill="#231f20">RPL3L</text>
<text transform="translate(1755.00,758.85) rotate(-90) scale(0.9732,1)" font-size="28.97" font-weight="normal" fill="#231f20">(50 kDa)</text>
<text transform="translate(1723.30,895.48) rotate(-90) scale(0.8961,1)" font-size="28.51" font-weight="normal" fill="#231f20">GAPDH</text>
<text transform="translate(1755.00,899.40) rotate(-90) scale(0.8895,1)" font-size="28.97" font-weight="normal" fill="#231f20">(37 kDa)</text>
<g clip-path="url(#c6)"><rect x="1274.1" y="632.0" width="415.7" height="59.7" fill="#e4e7f0"/><ellipse cx="1276.0" cy="674.0" rx="9.0" ry="22.0" fill="#4f80d8" opacity="0.9" filter="url(#f400)"/><rect x="1374.0" y="659.5" width="55.0" height="11.0" rx="5.5" fill="#22222b" opacity="1.0" filter="url(#f300)"/><rect x="1439.0" y="662.0" width="50.0" height="9.0" rx="4.5" fill="#3c3c47" opacity="1.0" filter="url(#f300)"/><rect x="1501.0" y="659.0" width="47.0" height="10.0" rx="5.0" fill="#292931" opacity="1.0" filter="url(#f300)"/><rect x="1560.0" y="656.0" width="49.0" height="10.0" rx="5.0" fill="#22222b" opacity="1.0" filter="url(#f300)"/><rect x="1621.0" y="654.5" width="48.0" height="10.0" rx="5.0" fill="#22222b" opacity="1.0" filter="url(#f300)"/></g>
<g clip-path="url(#c7)"><rect x="1274.1" y="703.1" width="415.7" height="75.7" fill="#e5e8f0"/><ellipse cx="1275.0" cy="768.0" rx="6.0" ry="16.0" fill="#4f80d8" opacity="0.9" filter="url(#f350)"/><rect x="1371.0" y="746.0" width="56.0" height="13.0" rx="6.5" fill="#08080c" opacity="1.0" filter="url(#f300)"/><rect x="1438.0" y="742.5" width="53.0" height="16.0" rx="8.0" fill="#000" opacity="1.0" filter="url(#f300)"/><rect x="1500.0" y="740.0" width="52.0" height="15.0" rx="7.5" fill="#000" opacity="1.0" filter="url(#f300)"/><rect x="1560.0" y="734.0" width="56.0" height="19.0" rx="9.5" fill="#000" opacity="1.0" filter="url(#f300)"/><rect x="1620.0" y="726.5" width="60.0" height="25.0" rx="9.0" fill="#000" opacity="1.0" filter="url(#f300)"/></g>
<g clip-path="url(#c8)"><rect x="1274.1" y="789.0" width="415.7" height="57.8" fill="#dcdfe6"/><rect x="1600" y="780" width="120" height="20" fill="#a8aab3" filter="url(#f600)" opacity="0.6"/><rect x="1287.0" y="803.5" width="61.0" height="11.0" rx="5.5" fill="#000" opacity="1.0" filter="url(#f200)" transform="rotate(7.00 1317.5 809.0)"/><ellipse cx="1294.0" cy="804.0" rx="8.0" ry="6.0" fill="#000" opacity="1.0" filter="url(#f150)"/><rect x="1370.0" y="806.5" width="56.0" height="11.0" rx="5.5" fill="#15151c" opacity="1.0" filter="url(#f260)"/><rect x="1439.0" y="807.0" width="52.0" height="10.0" rx="5.0" fill="#000" opacity="1.0" filter="url(#f260)"/><rect x="1505.0" y="805.5" width="48.0" height="11.0" rx="5.5" fill="#000" opacity="1.0" filter="url(#f260)"/><rect x="1568.0" y="800.5" width="51.0" height="12.0" rx="6.0" fill="#000" opacity="1.0" filter="url(#f260)"/><rect x="1631.0" y="802.5" width="52.0" height="12.0" rx="6.0" fill="#000" opacity="1.0" filter="url(#f260)"/></g>
<g clip-path="url(#c9)"><rect x="1274.1" y="860.0" width="415.7" height="55.6" fill="#d3d5db"/><rect x="1274" y="860" width="14" height="56" fill="#cdc9cd" filter="url(#f300)"/></g>
<text transform="translate(1275.81,962.10) scale(1.0484,1)" font-size="22.78" font-weight="normal" fill="#231f20" >2.5</text>
<text transform="translate(1273.94,1011.10) scale(1.1353,1)" font-size="22.21" font-weight="normal" fill="#231f20" >2.0</text>
<text transform="translate(1279.70,1060.40) scale(0.9317,1)" font-size="22.53" font-weight="normal" fill="#231f20" >1.5</text>
<text transform="translate(1276.32,1110.20) scale(1.0360,1)" font-size="22.64" font-weight="normal" fill="#231f20" >1.0</text>
<text transform="translate(1273.91,1158.80) scale(1.1171,1)" font-size="22.64" font-weight="normal" fill="#231f20" >0.5</text>
<text transform="translate(1293.72,1208.10) scale(1.3112,1)" font-size="21.06" font-weight="normal" fill="#231f20" >0</text>
<line x1="1322.20" y1="1149.35" x2="1335.30" y2="1149.35" stroke="#231f20" stroke-width="1.5" />
<line x1="1322.20" y1="1100.10" x2="1335.30" y2="1100.10" stroke="#231f20" stroke-width="1.5" />
<line x1="1322.20" y1="1050.85" x2="1335.30" y2="1050.85" stroke="#231f20" stroke-width="1.5" />
<line x1="1322.20" y1="1001.60" x2="1335.30" y2="1001.60" stroke="#231f20" stroke-width="1.5" />
<line x1="1322.20" y1="952.35" x2="1335.30" y2="952.35" stroke="#231f20" stroke-width="1.5" />
<line x1="1335.30" y1="952.30" x2="1335.30" y2="1198.60" stroke="#231f20" stroke-width="1.5" />
<line x1="1322.20" y1="1198.60" x2="1706.50" y2="1198.60" stroke="#231f20" stroke-width="1.5" />
<line x1="1368.40" y1="1198.60" x2="1368.40" y2="1212.10" stroke="#231f20" stroke-width="1.5" />
<line x1="1444.00" y1="1198.60" x2="1444.00" y2="1212.10" stroke="#231f20" stroke-width="1.5" />
<line x1="1520.10" y1="1198.60" x2="1520.10" y2="1212.10" stroke="#231f20" stroke-width="1.5" />
<line x1="1595.90" y1="1198.60" x2="1595.90" y2="1212.10" stroke="#231f20" stroke-width="1.5" />
<line x1="1672.00" y1="1198.60" x2="1672.00" y2="1212.10" stroke="#231f20" stroke-width="1.5" />
<text transform="translate(1346.72,1240.90) scale(1.0883,1)" font-size="22.78" font-weight="normal" fill="#231f20" >100</text>
<text transform="translate(1432.04,1240.90) scale(0.9809,1)" font-size="23.11" font-weight="normal" fill="#231f20" >75</text>
<text transform="translate(1505.97,1240.90) scale(1.1347,1)" font-size="22.78" font-weight="normal" fill="#231f20" >50</text>
<text transform="translate(1582.18,1240.90) scale(1.0717,1)" font-size="22.78" font-weight="normal" fill="#231f20" >25</text>
<text transform="translate(1663.59,1240.90) scale(1.2490,1)" font-size="22.78" font-weight="normal" fill="#231f20" >0</text>
<text transform="translate(1424.63,1281.00) scale(1.0034,1)" font-size="27.62" font-weight="normal" fill="#231f20" >Percentage WT</text>
<text transform="translate(1253.40,1136.16) rotate(-90) scale(1.0406,1)" font-size="28.83" font-weight="normal" fill="#231f20">Insoluble</text>
<circle cx="1364.50" cy="962.40" r="5.60" fill="#1d1d1f" />
<circle cx="1364.50" cy="995.50" r="5.60" fill="#a7a8ab" />
<text transform="translate(1385.55,971.30) scale(1.1095,1)" font-size="22.48" font-weight="normal" fill="#231f20" >Actual</text>
<text transform="translate(1383.59,1004.20) scale(1.0715,1)" font-size="22.90" font-weight="normal" fill="#231f20" >Expected</text>
<path d="M1346.6,1198.6 V1100.1 H1362.5 V1198.6" fill="#fff" stroke="#231f20" stroke-width="1.5"/>
<path d="M1374.9,1198.6 V1100.1 H1390.6 V1198.6" fill="#fff" stroke="#b9babd" stroke-width="1.5"/>
<circle cx="1350.50" cy="1100.20" r="5.50" fill="#1d1d1f" />
<circle cx="1354.50" cy="1100.20" r="5.50" fill="#1d1d1f" />
<circle cx="1358.50" cy="1100.20" r="5.50" fill="#1d1d1f" />
<circle cx="1377.25" cy="1100.10" r="5.20" fill="#8f9092" />
<circle cx="1380.75" cy="1100.10" r="5.20" fill="#8f9092" />
<circle cx="1384.75" cy="1100.10" r="5.20" fill="#8f9092" />
<circle cx="1388.25" cy="1100.10" r="5.20" fill="#8f9092" />
<path d="M1422.4,1198.6 V1078.4 H1438.2 V1198.6" fill="#fff" stroke="#231f20" stroke-width="1.5"/>
<path d="M1450.6,1198.6 V1075.5 H1466.4 V1198.6" fill="#fff" stroke="#b9babd" stroke-width="1.5"/>
<line x1="1430.30" y1="1096.10" x2="1430.30" y2="1055.10" stroke="#3a3a3c" stroke-width="1.5" />
<line x1="1420.80" y1="1078.43" x2="1439.80" y2="1078.43" stroke="#231f20" stroke-width="1.5" />
<line x1="1425.30" y1="1096.10" x2="1435.30" y2="1096.10" stroke="#3a3a3c" stroke-width="1.5" />
<circle cx="1430.00" cy="1055.10" r="5.50" fill="#1d1d1f" />
<circle cx="1425.50" cy="1090.10" r="5.50" fill="#1d1d1f" />
<circle cx="1434.60" cy="1085.50" r="5.50" fill="#1d1d1f" />
<circle cx="1453.00" cy="1075.47" r="5.20" fill="#8f9092" />
<circle cx="1456.50" cy="1075.47" r="5.20" fill="#8f9092" />
<circle cx="1460.50" cy="1075.47" r="5.20" fill="#8f9092" />
<circle cx="1464.00" cy="1075.47" r="5.20" fill="#8f9092" />
<path d="M1497.9,1198.6 V1050.8 H1513.7 V1198.6" fill="#fff" stroke="#231f20" stroke-width="1.5"/>
<path d="M1526.8,1198.6 V1050.8 H1542.3 V1198.6" fill="#fff" stroke="#b9babd" stroke-width="1.5"/>
<line x1="1505.80" y1="1074.20" x2="1505.80" y2="1023.30" stroke="#3a3a3c" stroke-width="1.5" />
<line x1="1496.30" y1="1050.85" x2="1515.30" y2="1050.85" stroke="#231f20" stroke-width="1.5" />
<line x1="1500.80" y1="1074.20" x2="1510.80" y2="1074.20" stroke="#3a3a3c" stroke-width="1.5" />
<circle cx="1505.90" cy="1023.30" r="5.50" fill="#1d1d1f" />
<circle cx="1505.90" cy="1057.30" r="5.50" fill="#1d1d1f" />
<circle cx="1505.90" cy="1069.20" r="5.50" fill="#1d1d1f" />
<circle cx="1529.05" cy="1050.85" r="5.20" fill="#8f9092" />
<circle cx="1532.55" cy="1050.85" r="5.20" fill="#8f9092" />
<circle cx="1536.55" cy="1050.85" r="5.20" fill="#8f9092" />
<circle cx="1540.05" cy="1050.85" r="5.20" fill="#8f9092" />
<path d="M1574.1,1198.6 V1051.8 H1589.7 V1198.6" fill="#fff" stroke="#231f20" stroke-width="1.5"/>
<path d="M1602.5,1198.6 V1026.2 H1618.3 V1198.6" fill="#fff" stroke="#b9babd" stroke-width="1.5"/>
<line x1="1581.90" y1="1067.70" x2="1581.90" y2="1030.40" stroke="#3a3a3c" stroke-width="1.5" />
<line x1="1572.40" y1="1051.84" x2="1591.40" y2="1051.84" stroke="#231f20" stroke-width="1.5" />
<line x1="1576.90" y1="1067.70" x2="1586.90" y2="1067.70" stroke="#3a3a3c" stroke-width="1.5" />
<circle cx="1581.60" cy="1030.40" r="5.50" fill="#1d1d1f" />
<circle cx="1581.60" cy="1052.80" r="5.50" fill="#1d1d1f" />
<circle cx="1581.60" cy="1067.70" r="5.50" fill="#1d1d1f" />
<circle cx="1604.90" cy="1026.22" r="5.20" fill="#8f9092" />
<circle cx="1608.40" cy="1026.22" r="5.20" fill="#8f9092" />
<circle cx="1612.40" cy="1026.22" r="5.20" fill="#8f9092" />
<circle cx="1615.90" cy="1026.22" r="5.20" fill="#8f9092" />
<path d="M1649.8,1198.6 V1004.6 H1665.6 V1198.6" fill="#fff" stroke="#231f20" stroke-width="1.5"/>
<path d="M1678.3,1198.6 V1001.6 H1693.8 V1198.6" fill="#fff" stroke="#b9babd" stroke-width="1.5"/>
<line x1="1657.70" y1="1028.20" x2="1657.70" y2="974.20" stroke="#3a3a3c" stroke-width="1.5" />
<line x1="1648.20" y1="1004.55" x2="1667.20" y2="1004.55" stroke="#231f20" stroke-width="1.5" />
<line x1="1652.70" y1="1028.20" x2="1662.70" y2="1028.20" stroke="#3a3a3c" stroke-width="1.5" />
<circle cx="1657.40" cy="974.20" r="5.50" fill="#1d1d1f" />
<circle cx="1657.40" cy="1011.30" r="5.50" fill="#1d1d1f" />
<circle cx="1657.40" cy="1022.40" r="5.50" fill="#1d1d1f" />
<circle cx="1680.55" cy="1001.60" r="5.20" fill="#8f9092" />
<circle cx="1684.05" cy="1001.60" r="5.20" fill="#8f9092" />
<circle cx="1688.05" cy="1001.60" r="5.20" fill="#8f9092" />
<circle cx="1691.55" cy="1001.60" r="5.20" fill="#8f9092" />
<text transform="translate(-1.32,1196.30) scale(1.3402,1)" font-size="34.76" font-weight="bold" fill="#231f20" >e</text>
<text transform="translate(282.97,1196.30) scale(1.0500,1)" font-size="25.93" font-weight="normal" fill="#231f20" >DOX</text>
<text transform="translate(529.48,1196.30) scale(1.0426,1)" font-size="25.93" font-weight="normal" fill="#231f20" >DOX</text>
<polygon points="203.10,1220.60 426.80,1201.80 426.80,1222.60 203.10,1222.60" fill="#1c1e24" />
<polygon points="451.00,1220.60 677.00,1204.00 677.00,1222.60 451.00,1222.60" fill="#1c1e24" />
<text transform="translate(97.81,1250.50) scale(1.0187,1)" font-size="26.22" font-weight="normal" fill="#231f20" >RPL3:</text>
<text transform="translate(83.32,1288.10) scale(1.0141,1)" font-size="26.22" font-weight="normal" fill="#231f20" >RPL3L:</text>
<text transform="translate(72.08,1322.10) scale(1.0688,1)" font-size="27.65" font-weight="normal" fill="#231f20" >D308N:</text>
<text transform="translate(203.40,1251.13) scale(0.8869,1)" font-size="27.61" font-weight="normal" fill="#231f20">+++</text>
<text transform="translate(297.70,1251.13) scale(0.8903,1)" font-size="27.61" font-weight="normal" fill="#231f20">++</text>
<text transform="translate(381.01,1251.13) scale(0.8795,1)" font-size="27.61" font-weight="normal" fill="#231f20">+</text>
<text transform="translate(458.92,1251.13) scale(0.8694,1)" font-size="27.61" font-weight="normal" fill="#231f20">+++</text>
<text transform="translate(540.81,1251.13) scale(0.8802,1)" font-size="27.61" font-weight="normal" fill="#231f20">++</text>
<text transform="translate(628.56,1251.13) scale(0.9167,1)" font-size="27.61" font-weight="normal" fill="#231f20">+</text>
<line x1="219.10" y1="1278.95" x2="230.90" y2="1278.95" stroke="#231f20" stroke-width="1.9" />
<text transform="translate(304.44,1288.13) scale(0.9316,1)" font-size="27.61" font-weight="normal" fill="#231f20">+</text>
<text transform="translate(366.50,1288.13) scale(0.8869,1)" font-size="27.61" font-weight="normal" fill="#231f20">+++</text>
<line x1="474.20" y1="1278.95" x2="486.20" y2="1278.95" stroke="#231f20" stroke-width="1.9" />
<text transform="translate(547.90,1288.13) scale(0.8869,1)" font-size="27.61" font-weight="normal" fill="#231f20">+</text>
<text transform="translate(618.91,1288.13) scale(0.8782,1)" font-size="27.61" font-weight="normal" fill="#231f20">+++</text>
<line x1="219.10" y1="1312.70" x2="230.90" y2="1312.70" stroke="#231f20" stroke-width="1.9" />
<line x1="305.70" y1="1312.70" x2="318.20" y2="1312.70" stroke="#231f20" stroke-width="1.9" />
<line x1="382.00" y1="1312.70" x2="394.00" y2="1312.70" stroke="#231f20" stroke-width="1.9" />
<text transform="translate(472.99,1321.95) scale(0.8878,1)" font-size="27.81" font-weight="normal" fill="#231f20">+</text>
<text transform="translate(547.90,1321.95) scale(0.8804,1)" font-size="27.81" font-weight="normal" fill="#231f20">+</text>
<text transform="translate(632.79,1321.95) scale(0.8878,1)" font-size="27.81" font-weight="normal" fill="#231f20">+</text>
<text transform="translate(74.22,1401.90) scale(1.0855,1)" font-size="27.59" font-weight="normal" fill="#231f20" >Soluble</text>
<text transform="translate(54.35,1515.20) scale(1.0686,1)" font-size="28.00" font-weight="normal" fill="#231f20" >Insoluble</text>
<text transform="translate(74.22,1615.50) scale(1.1020,1)" font-size="27.17" font-weight="normal" fill="#231f20" >Soluble</text>
<text transform="translate(54.35,1696.00) scale(1.0846,1)" font-size="27.59" font-weight="normal" fill="#231f20" >Insoluble</text>
<text transform="translate(689.27,1409.10) scale(0.9876,1)" font-size="23.31" font-weight="normal" fill="#231f20" >48 kDa</text>
<text transform="translate(689.27,1510.80) scale(0.9818,1)" font-size="23.45" font-weight="normal" fill="#231f20" >48 kDa</text>
<text transform="translate(688.17,1612.20) scale(0.9394,1)" font-size="24.00" font-weight="normal" fill="#231f20" >22 kDa</text>
<text transform="translate(688.17,1690.10) scale(0.9788,1)" font-size="23.03" font-weight="normal" fill="#231f20" >22 kDa</text>
<text transform="translate(801.30,1482.57) rotate(-90) scale(0.8482,1)" font-size="29.80" font-weight="normal" fill="#231f20">RPL4</text>
<text transform="translate(801.70,1693.79) rotate(-90) scale(1.0092,1)" font-size="28.87" font-weight="normal" fill="#231f20">C7orf50</text>
<g clip-path="url(#c10)"><rect x="189.2" y="1346.2" width="241.6" height="96.8" fill="#e2dfe9"/><path d="M193.5,1388.0 C201.8,1394.7 254.2,1394.7 262.5,1388.0 L262.5,1414.0 C254.2,1406.7 201.8,1406.7 193.5,1414.0 Z" fill="#15131e" filter="url(#f350)"/><path d="M282.0,1388.0 C289.7,1394.7 338.3,1394.7 346.0,1388.0 L346.0,1415.0 C338.3,1407.7 289.7,1407.7 282.0,1418.0 Z" fill="#0e0c16" filter="url(#f350)"/><path d="M363.0,1386.5 C369.7,1393.2 412.3,1393.2 419.0,1386.5 L419.0,1411.0 C412.3,1404.3 369.7,1404.3 363.0,1411.0 Z" fill="#15131e" filter="url(#f350)"/></g>
<g clip-path="url(#c11)"><rect x="443.0" y="1346.2" width="232.7" height="96.8" fill="#dedbe6"/><path d="M451.0,1388.0 C458.4,1394.0 505.6,1394.0 513.0,1388.0 L513.0,1411.0 C505.6,1404.3 458.4,1404.3 451.0,1411.0 Z" fill="#15131e" filter="url(#f350)"/><path d="M529.0,1388.0 C536.3,1394.0 582.7,1394.0 590.0,1388.0 L590.0,1411.0 C582.7,1404.3 536.3,1404.3 529.0,1411.0 Z" fill="#100e18" filter="url(#f350)"/><path d="M607.5,1387.0 C615.2,1393.0 664.3,1393.0 672.0,1387.0 L672.0,1410.0 C664.3,1403.3 615.2,1403.3 607.5,1410.0 Z" fill="#15131e" filter="url(#f350)"/></g>
<g clip-path="url(#c12)"><rect x="189.2" y="1457.1" width="241.6" height="96.1" fill="#dfe2e7"/><ellipse cx="189.0" cy="1505.0" rx="6.0" ry="22.0" fill="#5b8ad6" opacity="1.0" filter="url(#f300)"/><rect x="199.0" y="1514.1" width="76.0" height="11.0" rx="5.5" fill="#363c45" opacity="1.0" filter="url(#f280)"/><rect x="290.0" y="1512.5" width="62.0" height="11.0" rx="5.5" fill="#363c45" opacity="1.0" filter="url(#f280)"/><rect x="364.0" y="1505.5" width="64.0" height="13.0" rx="6.5" fill="#000" opacity="1.0" filter="url(#f250)" transform="rotate(-5.00 396.0 1512.0)"/><ellipse cx="424.0" cy="1508.0" rx="6.0" ry="8.0" fill="#000" opacity="1.0" filter="url(#f200)"/></g>
<g clip-path="url(#c13)"><rect x="443.0" y="1457.1" width="232.7" height="96.1" fill="#d8dce1"/><rect x="443" y="1470" width="233" height="70" fill="#b8bcc2" filter="url(#f800)" opacity="0.55"/><rect x="445.0" y="1498.0" width="71.0" height="18.0" rx="9.0" fill="#000" opacity="1.0" filter="url(#f250)"/><rect x="525.0" y="1499.0" width="68.0" height="13.0" rx="6.5" fill="#000" opacity="1.0" filter="url(#f250)"/><rect x="604.0" y="1497.5" width="68.0" height="11.0" rx="5.5" fill="#000" opacity="1.0" filter="url(#f250)"/><ellipse cx="608.0" cy="1503.0" rx="5.0" ry="7.0" fill="#000" opacity="1.0" filter="url(#f200)"/><ellipse cx="669.0" cy="1501.0" rx="5.0" ry="8.0" fill="#000" opacity="1.0" filter="url(#f200)"/></g>
<g clip-path="url(#c14)"><rect x="189.2" y="1569.2" width="243.6" height="67.4" fill="#e1e3e7"/><ellipse cx="189.0" cy="1612.0" rx="7.0" ry="26.0" fill="#e6a8b0" opacity="1.0" filter="url(#f400)"/><rect x="205.0" y="1592.0" width="66.0" height="22.0" rx="11.0" fill="#8e9098" opacity="0.55" filter="url(#f500)"/><g filter="url(#f200)" fill="#000"><ellipse cx="216.4" cy="1602.0" rx="9.1" ry="7.0"/><ellipse cx="259.6" cy="1602.0" rx="9.1" ry="7.0"/><rect x="215.0" y="1596.8" width="46.0" height="10.5"/></g><rect x="295.0" y="1585.0" width="58.0" height="23.0" rx="11.5" fill="#8e9098" opacity="0.55" filter="url(#f500)"/><g filter="url(#f200)" fill="#000"><ellipse cx="307.0" cy="1595.5" rx="9.8" ry="7.5"/><ellipse cx="341.0" cy="1595.5" rx="9.8" ry="7.5"/><rect x="305.5" y="1589.5" width="37.0" height="12.0"/></g><rect x="369.0" y="1580.0" width="56.0" height="21.0" rx="10.5" fill="#8e9098" opacity="0.55" filter="url(#f500)"/><g filter="url(#f200)" fill="#000"><ellipse cx="379.8" cy="1589.5" rx="8.5" ry="6.5"/><ellipse cx="414.2" cy="1589.5" rx="8.5" ry="6.5"/><rect x="378.5" y="1584.8" width="37.0" height="9.4"/></g></g>
<g clip-path="url(#c15)"><rect x="443.0" y="1567.1" width="232.7" height="69.5" fill="#e0e2e6"/><rect x="454.0" y="1584.5" width="62.0" height="23.0" rx="11.5" fill="#8e9098" opacity="0.55" filter="url(#f500)"/><g filter="url(#f180)" fill="#000"><ellipse cx="466.0" cy="1595.0" rx="9.8" ry="7.5"/><ellipse cx="504.0" cy="1595.0" rx="9.8" ry="7.5"/><rect x="464.5" y="1589.4" width="41.0" height="11.2"/></g><rect x="528.0" y="1583.5" width="61.0" height="25.0" rx="12.5" fill="#8e9098" opacity="0.55" filter="url(#f500)"/><g filter="url(#f180)" fill="#000"><ellipse cx="541.2" cy="1595.0" rx="11.1" ry="8.5"/><ellipse cx="575.8" cy="1595.0" rx="11.1" ry="8.5"/><rect x="539.5" y="1587.5" width="38.0" height="15.0"/></g><rect x="601.0" y="1587.0" width="61.0" height="21.0" rx="10.5" fill="#8e9098" opacity="0.55" filter="url(#f500)"/><g filter="url(#f180)" fill="#000"><ellipse cx="611.8" cy="1596.5" rx="8.5" ry="6.5"/><ellipse cx="651.2" cy="1596.5" rx="8.5" ry="6.5"/><rect x="610.5" y="1592.1" width="42.0" height="8.8"/></g></g>
<g clip-path="url(#c16)"><rect x="189.2" y="1649.1" width="243.6" height="67.9" fill="#dfe1ea"/><ellipse cx="200.0" cy="1700.0" rx="16.0" ry="30.0" fill="#eca6ad" opacity="1.0" filter="url(#f600)"/><rect x="224.0" y="1679.5" width="67.0" height="6.0" rx="3.0" fill="#a9abb3" opacity="1.0" filter="url(#f300)"/><rect x="304.0" y="1679.5" width="56.0" height="6.0" rx="3.0" fill="#a9abb3" opacity="1.0" filter="url(#f300)"/><rect x="374.0" y="1673.5" width="50.0" height="8.0" rx="4.0" fill="#777982" opacity="1.0" filter="url(#f300)"/><rect x="395.0" y="1673.0" width="29.0" height="7.0" rx="3.5" fill="#5e6068" opacity="1.0" filter="url(#f300)"/></g>
<g clip-path="url(#c17)"><rect x="443.0" y="1649.1" width="232.7" height="65.4" fill="#dde0ea"/><rect x="455.0" y="1675.0" width="61.0" height="10.0" rx="5.0" fill="#25252e" opacity="1.0" filter="url(#f300)"/><rect x="529.0" y="1676.0" width="61.0" height="9.0" rx="4.5" fill="#4a4e57" opacity="1.0" filter="url(#f300)"/><rect x="604.0" y="1677.5" width="70.0" height="9.0" rx="4.5" fill="#5c6069" opacity="1.0" filter="url(#f350)"/></g>
<text transform="translate(952.87,1335.60) scale(1.2444,1)" font-size="34.62" font-weight="bold" fill="#231f20" >f</text>
<line x1="1075.20" y1="1335.60" x2="1075.20" y2="1672.80" stroke="#231f20" stroke-width="1.5" />
<line x1="1062.00" y1="1672.80" x2="1413.50" y2="1672.80" stroke="#231f20" stroke-width="1.5" />
<line x1="1062.00" y1="1672.80" x2="1075.20" y2="1672.80" stroke="#231f20" stroke-width="1.5" />
<line x1="1062.00" y1="1605.45" x2="1075.20" y2="1605.45" stroke="#231f20" stroke-width="1.5" />
<line x1="1062.00" y1="1538.10" x2="1075.20" y2="1538.10" stroke="#231f20" stroke-width="1.5" />
<line x1="1062.00" y1="1470.75" x2="1075.20" y2="1470.75" stroke="#231f20" stroke-width="1.5" />
<line x1="1062.00" y1="1403.40" x2="1075.20" y2="1403.40" stroke="#231f20" stroke-width="1.5" />
<line x1="1062.00" y1="1336.05" x2="1075.20" y2="1336.05" stroke="#231f20" stroke-width="1.5" />
<text transform="translate(1035.84,1343.95) scale(1.0815,1)" font-size="22.24" font-weight="normal" fill="#231f20" >5</text>
<text transform="translate(1035.34,1411.30) scale(1.0974,1)" font-size="22.24" font-weight="normal" fill="#231f20" >4</text>
<text transform="translate(1035.67,1478.65) scale(1.1165,1)" font-size="21.92" font-weight="normal" fill="#231f20" >3</text>
<text transform="translate(1035.55,1546.00) scale(1.1405,1)" font-size="21.92" font-weight="normal" fill="#231f20" >2</text>
<text transform="translate(1037.85,1613.35) scale(0.9181,1)" font-size="22.24" font-weight="normal" fill="#231f20" >1</text>
<text transform="translate(1035.22,1680.70) scale(1.1453,1)" font-size="21.92" font-weight="normal" fill="#231f20" >0</text>
<line x1="1155.60" y1="1672.80" x2="1155.60" y2="1685.70" stroke="#231f20" stroke-width="1.5" />
<line x1="1331.90" y1="1672.80" x2="1331.90" y2="1685.60" stroke="#231f20" stroke-width="1.5" />
<text transform="translate(1129.93,1713.90) scale(1.0387,1)" font-size="20.78" font-weight="normal" fill="#231f20" >RPL4</text>
<text transform="translate(1286.64,1714.50) scale(1.1129,1)" font-size="22.24" font-weight="normal" fill="#231f20" >C7orf50</text>
<text transform="translate(980.80,1616.36) rotate(-90) scale(1.1163,1)" font-size="26.90" font-weight="normal" fill="#231f20">Insoluble/soluble</text>
<text transform="translate(1010.90,1681.30) rotate(-90) scale(1.1135,1)" font-size="26.07" font-weight="normal" fill="#231f20">(relative to non-transfected)</text>
<path d="M1093.4,1672.8 V1475.5 H1121.2 V1672.8" fill="#fff" stroke="#231f20" stroke-width="1.5"/>
<path d="M1141.5,1672.8 V1515.1 H1169.3 V1672.8" fill="#fff" stroke="#231f20" stroke-width="1.5"/>
<path d="M1190.0,1672.8 V1594.4 H1217.4 V1672.8" fill="#fff" stroke="#231f20" stroke-width="1.5"/>
<path d="M1269.6,1672.8 V1460.7 H1297.4 V1672.8" fill="#fff" stroke="#231f20" stroke-width="1.5"/>
<path d="M1318.2,1672.8 V1500.9 H1345.7 V1672.8" fill="#fff" stroke="#231f20" stroke-width="1.5"/>
<path d="M1366.1,1672.8 V1599.3 H1393.4 V1672.8" fill="#fff" stroke="#231f20" stroke-width="1.5"/>
<line x1="1091.40" y1="1475.50" x2="1123.20" y2="1475.50" stroke="#3a3a3a" stroke-width="1.6" />
<line x1="1139.50" y1="1515.10" x2="1171.30" y2="1515.10" stroke="#3a3a3a" stroke-width="1.6" />
<line x1="1188.00" y1="1594.40" x2="1219.40" y2="1594.40" stroke="#3a3a3a" stroke-width="1.6" />
<line x1="1267.60" y1="1460.70" x2="1299.40" y2="1460.70" stroke="#3a3a3a" stroke-width="1.6" />
<line x1="1316.20" y1="1500.90" x2="1347.70" y2="1500.90" stroke="#3a3a3a" stroke-width="1.6" />
<line x1="1364.10" y1="1599.30" x2="1395.40" y2="1599.30" stroke="#3a3a3a" stroke-width="1.6" />
<line x1="1107.10" y1="1475.20" x2="1107.10" y2="1479.50" stroke="#9e1c22" stroke-width="1.5" />
<line x1="1105.00" y1="1479.50" x2="1115.40" y2="1479.50" stroke="#9e1c22" stroke-width="1.5" />
<line x1="1155.20" y1="1482.50" x2="1155.20" y2="1543.90" stroke="#1e5e2b" stroke-width="1.6" />
<line x1="1203.70" y1="1569.40" x2="1203.70" y2="1612.60" stroke="#0b4c5f" stroke-width="1.6" />
<line x1="1283.50" y1="1406.10" x2="1283.50" y2="1506.30" stroke="#9e1c22" stroke-width="1.6" />
<line x1="1275.20" y1="1506.30" x2="1291.40" y2="1506.30" stroke="#9e1c22" stroke-width="1.5" />
<line x1="1275.20" y1="1410.20" x2="1291.40" y2="1410.20" stroke="#9e1c22" stroke-width="1.5" />
<line x1="1331.90" y1="1479.60" x2="1331.90" y2="1517.80" stroke="#5f9a6c" stroke-width="1.6" />
<line x1="1330.00" y1="1517.80" x2="1339.50" y2="1517.80" stroke="#5f9a6c" stroke-width="1.6" />
<line x1="1380.00" y1="1586.10" x2="1380.00" y2="1606.90" stroke="#3f7f92" stroke-width="1.6" />
<line x1="1378.80" y1="1586.10" x2="1387.60" y2="1586.10" stroke="#3f7f92" stroke-width="1.6" />
<line x1="1378.80" y1="1606.90" x2="1387.60" y2="1606.90" stroke="#3f7f92" stroke-width="1.6" />
<circle cx="1097.90" cy="1480.50" r="7.30" fill="#9e1c22" />
<circle cx="1107.10" cy="1466.40" r="7.30" fill="#9e1c22" />
<circle cx="1116.90" cy="1470.30" r="7.30" fill="#9e1c22" />
<circle cx="1155.20" cy="1482.50" r="7.30" fill="#1e5e2b" />
<circle cx="1155.20" cy="1511.10" r="7.30" fill="#1e5e2b" />
<circle cx="1155.20" cy="1543.90" r="7.30" fill="#1e5e2b" />
<circle cx="1203.70" cy="1569.40" r="7.30" fill="#0b4c5f" />
<circle cx="1203.70" cy="1595.00" r="7.30" fill="#0b4c5f" />
<circle cx="1203.70" cy="1612.60" r="7.30" fill="#0b4c5f" />
<circle cx="1283.50" cy="1406.10" r="7.30" fill="#9e1c22" />
<circle cx="1283.50" cy="1469.20" r="7.30" fill="#9e1c22" />
<circle cx="1283.50" cy="1500.00" r="7.30" fill="#9e1c22" />
<circle cx="1331.90" cy="1476.90" r="7.30" fill="#1e5e2b" />
<circle cx="1322.10" cy="1512.50" r="7.30" fill="#1e5e2b" />
<circle cx="1341.10" cy="1507.00" r="7.30" fill="#1e5e2b" />
<circle cx="1370.70" cy="1586.50" r="7.30" fill="#0b4c5f" />
<circle cx="1389.20" cy="1596.00" r="7.30" fill="#0b4c5f" />
<circle cx="1370.70" cy="1607.60" r="7.30" fill="#0b4c5f" />
<path d="M1111.0,1443.8 V1416.4 H1204.6 V1548.8" fill="none" stroke="#231f20" stroke-width="1.4"/>
<path d="M1282.1,1389.0 V1361.6 H1383.5 V1560.6" fill="none" stroke="#231f20" stroke-width="1.4"/>
<text transform="translate(1153.28,1419.75) scale(1.0183,1)" font-size="31.91" font-weight="normal" fill="#231f20">*</text>
<text transform="translate(1319.92,1366.89) scale(1.0040,1)" font-size="36.18" font-weight="normal" fill="#231f20">**</text>
<circle cx="1482.80" cy="1490.40" r="7.50" fill="#9e1c22" />
<circle cx="1482.80" cy="1536.00" r="7.50" fill="#1e5e2b" />
<circle cx="1482.80" cy="1581.40" r="7.50" fill="#0b4c5f" />
<text transform="translate(1503.93,1498.20) scale(0.9268,1)" font-size="23.35" font-weight="normal" fill="#231f20" >RPL3</text>
<text transform="translate(1557.51,1484.42) scale(1.0062,1)" font-size="13.91" font-weight="normal" fill="#231f20">+</text>

<text transform="translate(1566.40,1498.20) scale(1.0573,1)" font-size="23.72" font-weight="normal" fill="#231f20" >/D308N</text>
<text transform="translate(1651.08,1484.42) scale(0.9026,1)" font-size="13.91" font-weight="normal" fill="#231f20">+</text>
<text transform="translate(1503.91,1543.20) scale(0.9687,1)" font-size="22.49" font-weight="normal" fill="#231f20" >RPL3L</text>
<text transform="translate(1569.84,1530.02) scale(0.9618,1)" font-size="13.91" font-weight="normal" fill="#231f20">+</text>
<text transform="translate(1578.40,1543.20) scale(1.1021,1)" font-size="22.90" font-weight="normal" fill="#231f20" >/D308N</text>
<text transform="translate(1662.96,1530.02) scale(0.9322,1)" font-size="13.91" font-weight="normal" fill="#231f20">+</text>
<text transform="translate(1503.91,1589.00) scale(0.9388,1)" font-size="23.21" font-weight="normal" fill="#231f20" >RPL3L</text>
<text transform="translate(1569.83,1575.42) scale(0.9782,1)" font-size="13.91" font-weight="normal" fill="#231f20">+++</text>
<text transform="translate(1593.40,1589.00) scale(1.0712,1)" font-size="23.59" font-weight="normal" fill="#231f20" >/D308N</text>
<text transform="translate(1677.63,1575.42) scale(0.9766,1)" font-size="13.91" font-weight="normal" fill="#231f20">+</text></svg></body></html>
